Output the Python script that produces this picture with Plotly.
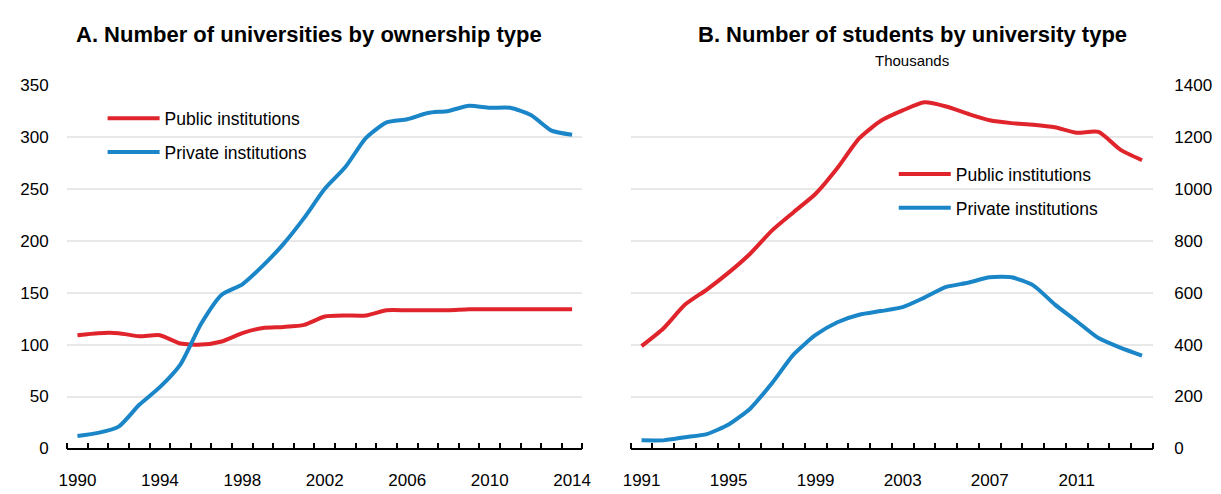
import plotly.graph_objects as go

# Panel A: number of universities by ownership type
years_a = list(range(1990, 2015))
public_univ = [109, 111, 111, 108, 109, 101, 100, 103, 111, 116, 117, 119, 127, 128, 128,
               133, 133, 133, 133, 134, 134, 134, 134, 134, 134]
private_univ = [12, 15, 21, 42, 59, 81, 120, 148, 158, 176, 197, 222, 250, 271, 299,
                314, 317, 323, 325, 330, 328, 328, 321, 306, 302]

# Panel B: number of students by university type (thousands)
years_b = list(range(1991, 2015))
public_students = [394, 462, 554, 612, 677, 751, 840, 911, 981, 1080, 1194, 1262, 1302,
                   1333, 1317, 1289, 1264, 1253, 1247, 1237, 1216, 1219, 1151, 1110]
private_students = [31, 31, 43, 55, 92, 154, 252, 363, 437, 486, 515, 529, 544, 581,
                    622, 638, 659, 659, 628, 554, 490, 425, 388, 357]

ticks_a = [1990, 1994, 1998, 2002, 2006, 2010, 2014]
ticks_b = [1991, 1995, 1999, 2003, 2007, 2011]

RED = "#e0242c"
BLUE = "#1a86c8"
FONT = "Liberation Sans Narrow, Arial Narrow, Liberation Sans, Arial, sans-serif"

fig = go.Figure()
fig.add_trace(go.Scatter(x=years_a, y=public_univ, name="Public institutions", mode="lines",
                         line=dict(color=RED, width=4, shape="spline", smoothing=0.6),
                         xaxis="x", yaxis="y", legend="legend", legendgroup="a1"))
fig.add_trace(go.Scatter(x=years_a, y=private_univ, name="Private institutions", mode="lines",
                         line=dict(color=BLUE, width=4, shape="spline", smoothing=0.6),
                         xaxis="x", yaxis="y", legend="legend", legendgroup="a2"))
fig.add_trace(go.Scatter(x=years_b, y=public_students, name="Public institutions", mode="lines",
                         line=dict(color=RED, width=4, shape="spline", smoothing=0.6),
                         xaxis="x2", yaxis="y2", legend="legend2", legendgroup="b1"))
fig.add_trace(go.Scatter(x=years_b, y=private_students, name="Private institutions", mode="lines",
                         line=dict(color=BLUE, width=4, shape="spline", smoothing=0.6),
                         xaxis="x2", yaxis="y2", legend="legend2", legendgroup="b2"))

W, H = 1221, 494
y_dom = [(H - 457) / H, (H - 79) / H]

# year-band boundaries for the small tick marks
bounds_a = [y - 0.5 for y in years_a] + [years_a[-1] + 0.5]
bounds_b = [y - 0.5 for y in years_b] + [years_b[-1] + 0.5]


def xaxis_cfg(domain, rng, tickvals, bounds, anchor):
    return dict(
        domain=domain, range=rng, tickmode="array", tickvals=tickvals, anchor=anchor,
        showgrid=False, zeroline=False, showline=True, linecolor="black", linewidth=1.5,
        ticks="outside", ticklen=15, tickcolor="rgba(0,0,0,0)",
        tickfont=dict(size=17, color="black", family=FONT),
        minor=dict(tickmode="array", tickvals=bounds, ticks="inside", ticklen=6,
                   tickcolor="black", tickwidth=1.5, showgrid=False),
    )


legend_common = dict(xanchor="left", yanchor="top", bgcolor="rgba(0,0,0,0)",
                     font=dict(size=17.5, family=FONT, color="black"),
                     tracegroupgap=8, itemwidth=52)

fig.update_layout(
    width=W, height=H,
    margin=dict(l=0, r=0, t=0, b=0),
    paper_bgcolor="white", plot_bgcolor="white",
    font=dict(family=FONT, color="black"),
    xaxis=xaxis_cfg([59 / W, 582 / W], [1989.5, 2014.5], ticks_a, bounds_a, "y"),
    yaxis=dict(domain=y_dom, range=[0, 350], tickvals=[0, 50, 100, 150, 200, 250, 300, 350],
               showgrid=True, gridcolor="#e8e8e8", gridwidth=1.5, zeroline=False, showline=False,
               ticks="outside", ticklen=14, tickcolor="rgba(0,0,0,0)",
               tickfont=dict(size=17, color="black", family=FONT), anchor="x"),
    xaxis2=xaxis_cfg([631 / W, 1161 / W], [1990.5, 2014.5], ticks_b, bounds_b, "y2"),
    yaxis2=dict(domain=y_dom, range=[0, 1400], tickvals=[0, 200, 400, 600, 800, 1000, 1200, 1400],
                side="right", showgrid=True, gridcolor="#e8e8e8", gridwidth=1.5, zeroline=False,
                showline=False, ticks="outside", ticklen=17, tickcolor="rgba(0,0,0,0)",
                tickfont=dict(size=17, color="black", family=FONT), anchor="x2"),
    legend=dict(x=95 / W, y=(H - 95) / H, **legend_common),
    legend2=dict(x=898 / W, y=(H - 153) / H, **legend_common),
    annotations=[
        dict(text="<b>A. Number of universities by ownership type</b>", x=304 / W, y=(H - 27) / H,
             xref="paper", yref="paper", showarrow=False, xanchor="center", yanchor="middle",
             font=dict(size=22, family=FONT, color="black")),
        dict(text="<b>B. Number of students by university type</b>", x=917 / W, y=(H - 27) / H,
             xref="paper", yref="paper", showarrow=False, xanchor="center", yanchor="middle",
             font=dict(size=22, family=FONT, color="black")),
        dict(text="Thousands", x=917 / W, y=(H - 54) / H,
             xref="paper", yref="paper", showarrow=False, xanchor="center", yanchor="middle",
             font=dict(size=15, family=FONT, color="black")),
    ],
)

fig.write_html("out.html", config={"displayModeBar": False},
               post_script="document.body.style.margin='0px';")
